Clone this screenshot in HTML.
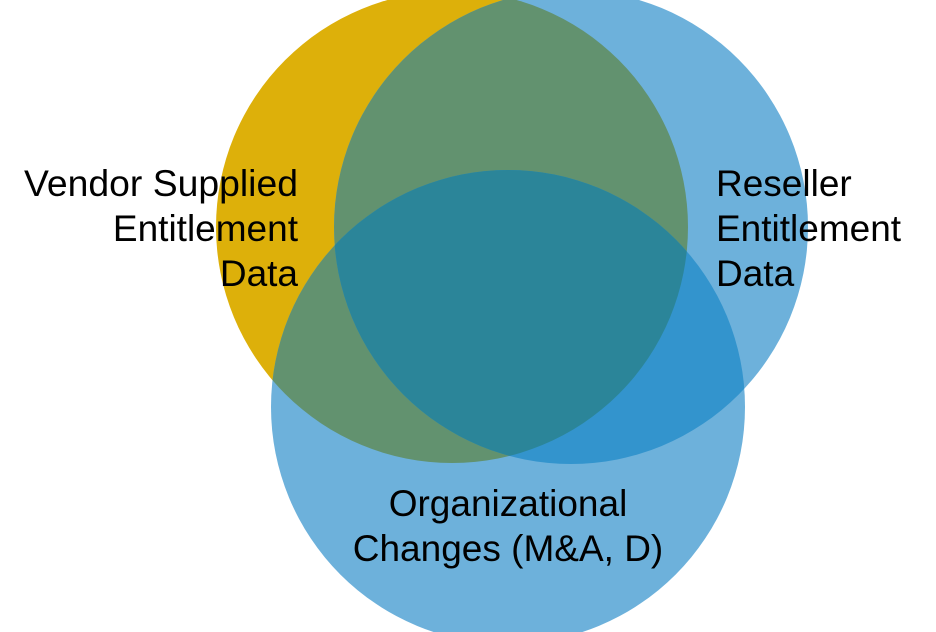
<!DOCTYPE html>
<html><head><meta charset="utf-8"><style>html,body{margin:0;padding:0;background:#fff;}svg{display:block}</style></head>
<body>
<svg width="936" height="632" viewBox="0 0 936 632" xmlns="http://www.w3.org/2000/svg">
<defs>
<clipPath id="cy"><circle cx="452" cy="227" r="236"/></clipPath>
<clipPath id="cr"><circle cx="571" cy="227" r="237"/></clipPath>
<clipPath id="cb"><circle cx="508" cy="407" r="237"/></clipPath>
</defs>
<circle cx="452" cy="227" r="236" fill="#DDB00A"/>
<circle cx="571" cy="227" r="237" fill="#6DB1DB"/>
<circle cx="508" cy="407" r="237" fill="#6DB1DB"/>
<circle cx="571" cy="227" r="237" fill="#62926F" clip-path="url(#cy)"/>
<circle cx="508" cy="407" r="237" fill="#62926F" clip-path="url(#cy)"/>
<circle cx="508" cy="407" r="237" fill="#3394CD" clip-path="url(#cr)"/>
<g clip-path="url(#cy)"><circle cx="508" cy="407" r="237" fill="#2B8599" clip-path="url(#cr)"/></g>
<g font-family="Liberation Sans, Arial, sans-serif" font-size="37" fill="#000">
<text x="298" y="196" text-anchor="end" textLength="274" lengthAdjust="spacingAndGlyphs">Vendor Supplied</text>
<text x="298" y="241" text-anchor="end">Entitlement</text>
<text x="298" y="286" text-anchor="end">Data</text>
<text x="716" y="196">Reseller</text>
<text x="716" y="241">Entitlement</text>
<text x="716" y="286">Data</text>
<text x="508" y="516" text-anchor="middle">Organizational</text>
<text x="508" y="561" text-anchor="middle">Changes (M&amp;A, D)</text>
</g>
</svg>
</body></html>
